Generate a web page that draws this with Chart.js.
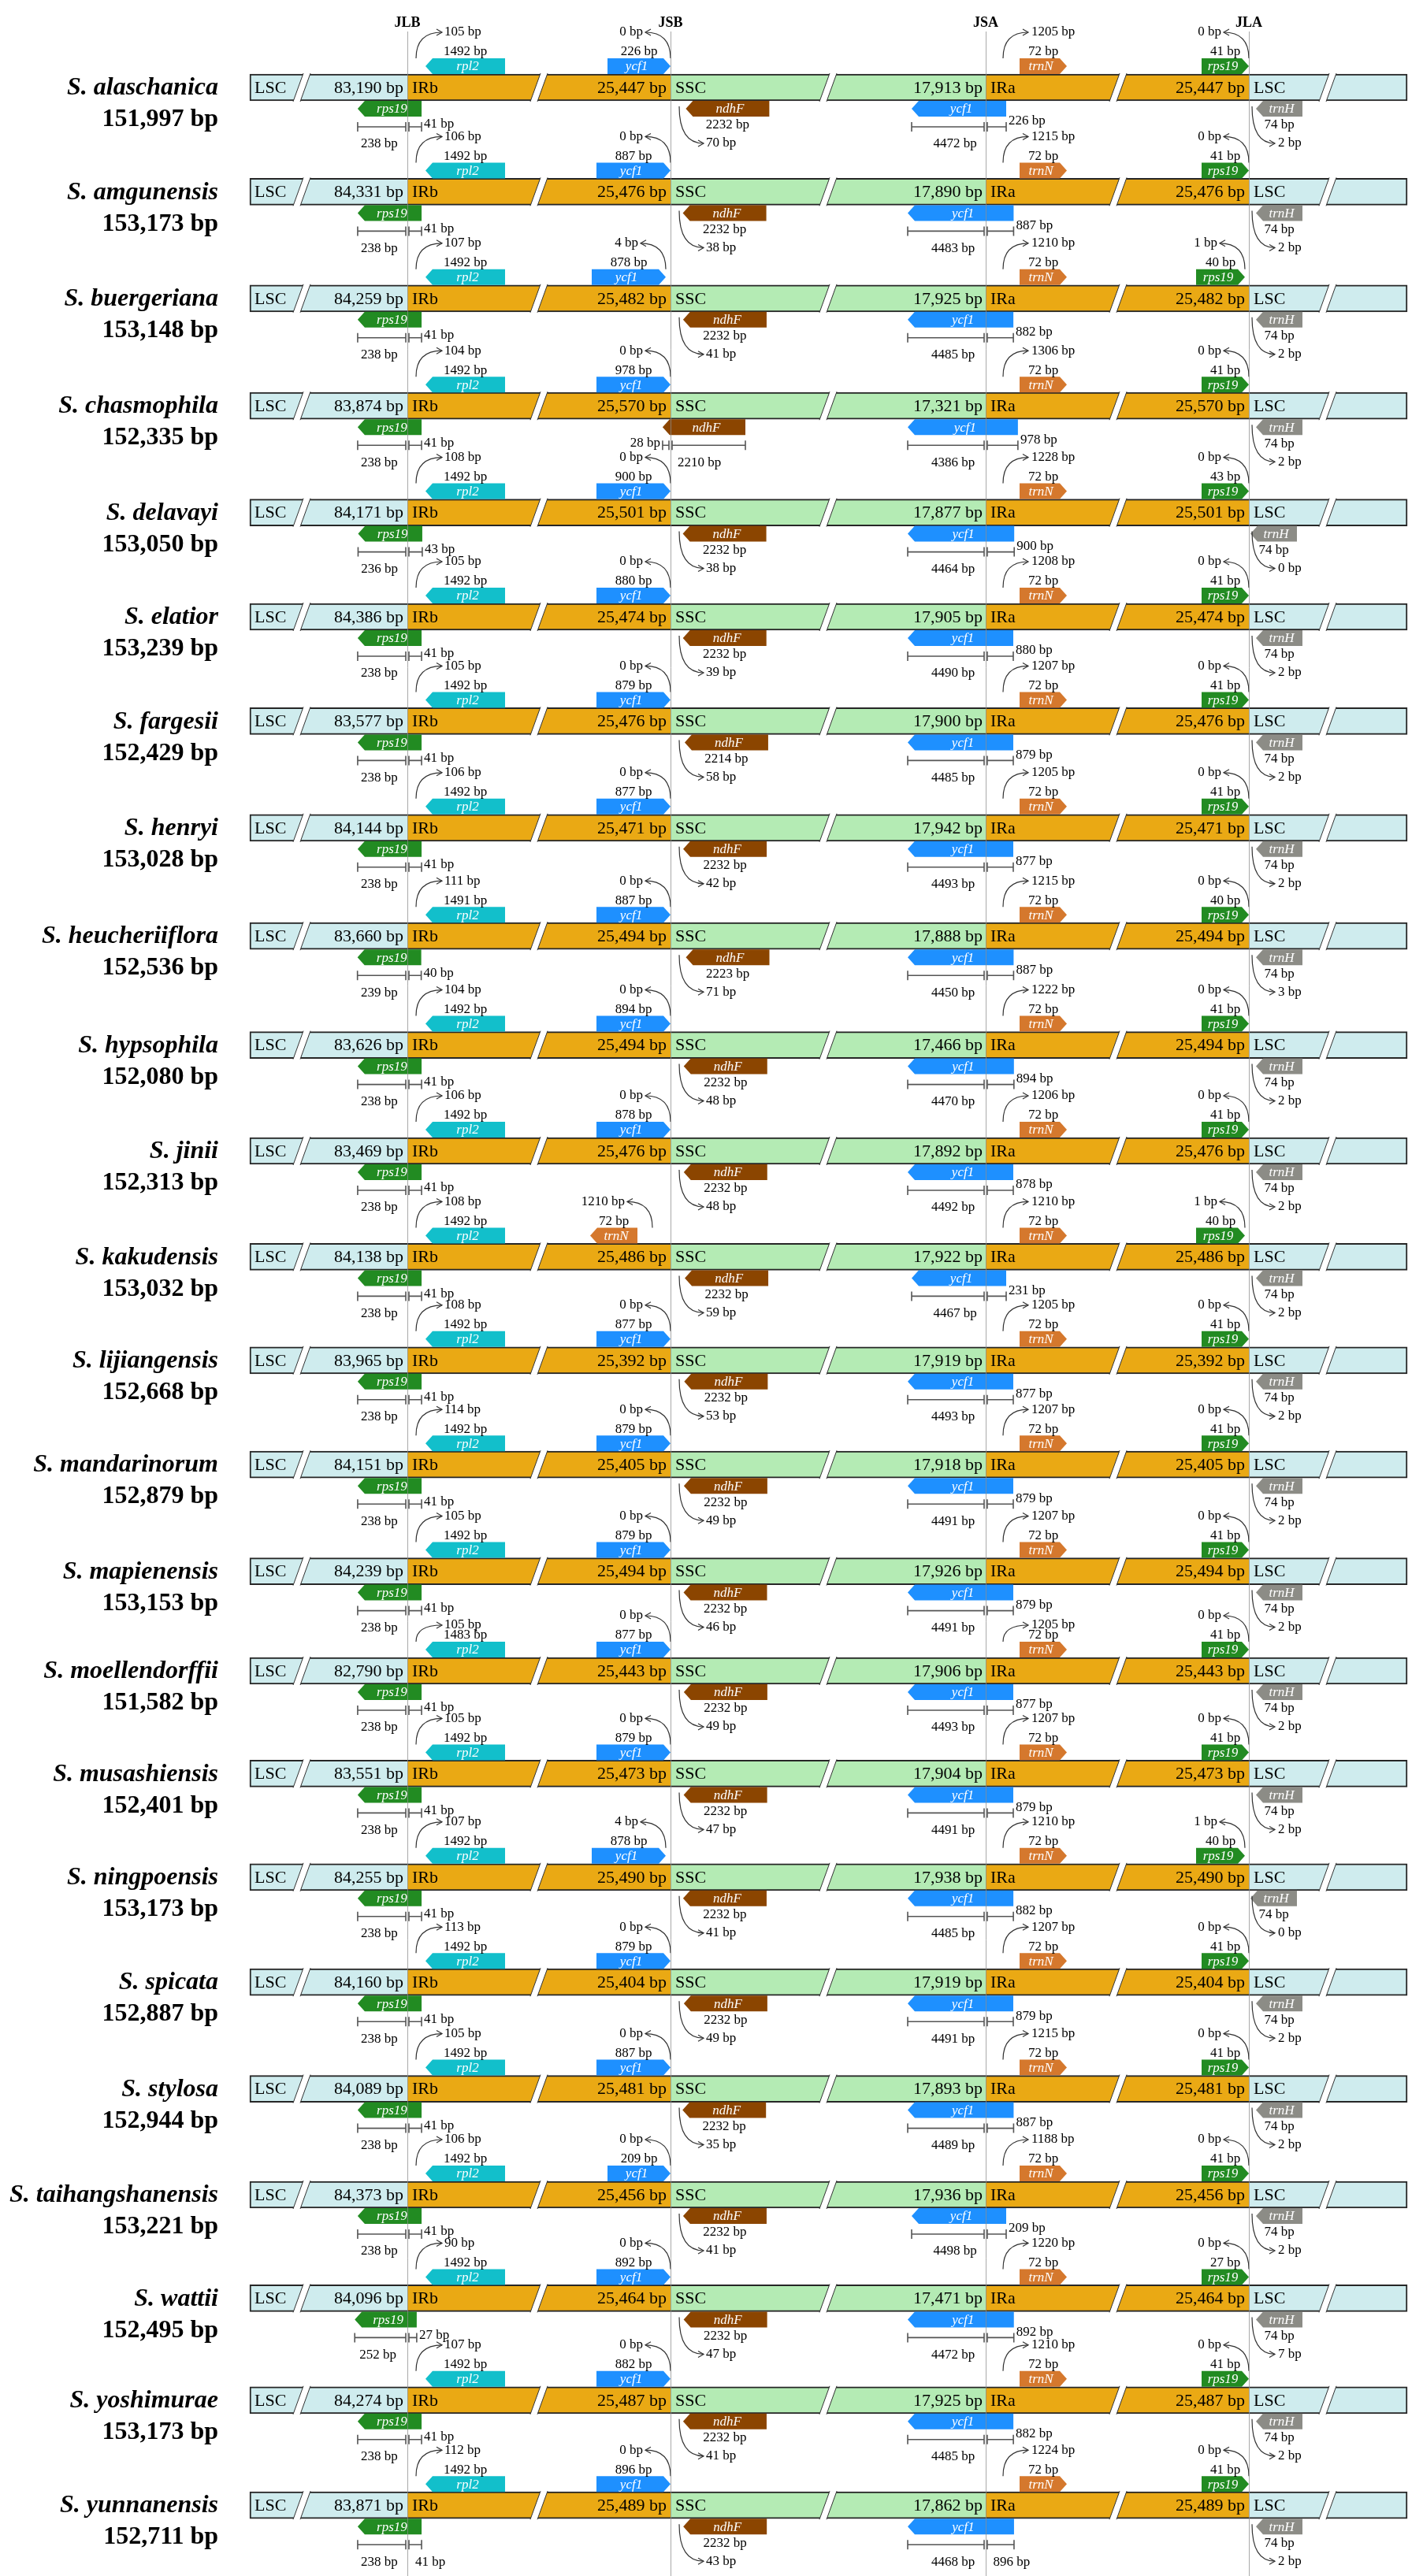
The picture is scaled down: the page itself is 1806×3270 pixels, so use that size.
<!DOCTYPE html>
<html><head><meta charset="utf-8">
<script src="https://cdn.jsdelivr.net/npm/chart.js@4.4.0/dist/chart.umd.min.js"></script>
<style>html,body{margin:0;padding:0;background:#fff}#wrap{width:1806px;height:3270px}canvas{display:block}</style>
</head><body>
<div id="wrap"><canvas id="c" width="1806" height="3270" style="width:1806px;height:3270px"></canvas></div>
<script>
// ---------------- DATA ----------------
const species = ["S. alaschanica","S. amgunensis","S. buergeriana","S. chasmophila","S. delavayi","S. elatior","S. fargesii","S. henryi","S. heucheriiflora","S. hypsophila","S. jinii","S. kakudensis","S. lijiangensis","S. mandarinorum","S. mapienensis","S. moellendorffii","S. musashiensis","S. ningpoensis","S. spicata","S. stylosa","S. taihangshanensis","S. wattii","S. yoshimurae","S. yunnanensis"];
const genomeBp = [151997,153173,153148,152335,153050,153239,152429,153028,152536,152080,152313,153032,152668,152879,153153,151582,152401,153173,152887,152944,153221,152495,153173,152711];
const lscBp = [83190,84331,84259,83874,84171,84386,83577,84144,83660,83626,83469,84138,83965,84151,84239,82790,83551,84255,84160,84089,84373,84096,84274,83871];
const irBp  = [25447,25476,25482,25570,25501,25474,25476,25471,25494,25494,25476,25486,25392,25405,25494,25443,25473,25490,25404,25481,25456,25464,25487,25489];
const sscBp = [17913,17890,17925,17321,17877,17905,17900,17942,17888,17466,17892,17922,17919,17918,17926,17906,17904,17938,17919,17893,17936,17471,17925,17862];
// genes above the bar
const rpl2Dist   = [105,106,107,104,108,105,105,106,111,104,106,108,108,114,105,105,105,107,113,105,106,90,107,112];
const rpl2Len    = [1492,1492,1492,1492,1492,1492,1492,1492,1491,1492,1492,1492,1492,1492,1492,1483,1492,1492,1492,1492,1492,1492,1492,1492];
const jsbTopGene = ["ycf1","ycf1","ycf1","ycf1","ycf1","ycf1","ycf1","ycf1","ycf1","ycf1","ycf1","trnN","ycf1","ycf1","ycf1","ycf1","ycf1","ycf1","ycf1","ycf1","ycf1","ycf1","ycf1","ycf1"];
const jsbTopDist = [0,0,4,0,0,0,0,0,0,0,0,1210,0,0,0,0,0,4,0,0,0,0,0,0];
const jsbTopLen  = [226,887,878,978,900,880,879,877,887,894,878,72,877,879,879,877,879,878,879,887,209,892,882,896];
const trnNDist   = [1205,1215,1210,1306,1228,1208,1207,1205,1215,1222,1206,1210,1205,1207,1207,1205,1207,1210,1207,1215,1188,1220,1210,1224];
const trnNLen    = [72,72,72,72,72,72,72,72,72,72,72,72,72,72,72,72,72,72,72,72,72,72,72,72];
const rps19TopGap = [0,0,1,0,0,0,0,0,0,0,0,1,0,0,0,0,0,1,0,0,0,0,0,0];
const rps19TopLen = [41,41,40,41,43,41,41,41,40,41,41,40,41,41,41,41,41,40,41,41,41,27,41,41];
// genes below the bar
const rps19LscPart = [238,238,238,238,236,238,238,238,239,238,238,238,238,238,238,238,238,238,238,238,238,252,238,238];
const rps19IrPart  = [41,41,41,41,43,41,41,41,40,41,41,41,41,41,41,41,41,41,41,41,41,27,41,41];
const ndhFLen    = [2232,2232,2232,2210,2232,2232,2214,2232,2223,2232,2232,2232,2232,2232,2232,2232,2232,2232,2232,2232,2232,2232,2232,2232];
const ndhFIrPart = [null,null,null,28,null,null,null,null,null,null,null,null,null,null,null,null,null,null,null,null,null,null,null,null];
const ndhFDist   = [70,38,41,null,38,39,58,42,71,48,48,59,53,49,46,49,47,41,49,35,41,47,41,43];
const ycf1SscPart = [4472,4483,4485,4386,4464,4490,4485,4493,4450,4470,4492,4467,4493,4491,4491,4493,4491,4485,4491,4489,4498,4472,4485,4468];
const ycf1IrPart  = [226,887,882,978,900,880,879,877,887,894,878,231,877,879,879,877,879,882,879,887,209,892,882,896];
const trnHLen  = [74,74,74,74,74,74,74,74,74,74,74,74,74,74,74,74,74,74,74,74,74,74,74,74];
const trnHDist = [2,2,2,2,0,2,2,2,3,2,2,2,2,2,2,2,2,0,2,2,2,7,2,2];
const junctionLabels = ["JLB","JSB","JSA","JLA"];
const segmentNames = ["LSC","IRb","SSC","IRa","LSC"];

// ---------------- LAYOUT (schematic units / pixels) ----------------
const J = {start:317, jlb:517, jsb:851, jsa:1251, jla:1585, end:1786};
const ROW0 = 111, ROW_PITCH = 133.4;
const ROW_NUDGE = [0,-1,1,4,6,5,4,6,10,15,16,17,15,14,16,9,6,4,4,6,7,5,1,1];
const rowPos = i => ROW0 + ROW_PITCH * i + ROW_NUDGE[i];
const COL = {lsc:'#cfecee', ir:'#eaa914', ssc:'#b4ebb4', rpl2:'#12bfcb', ycf1:'#1e90ff', rps19:'#228b22', ndhF:'#8b4500', trnN:'#d5782d', trnH:'#8c8c86'};
const SERIF = '"Liberation Serif","Times New Roman",serif';
const F_SMALL = '17px ' + SERIF, F_SEG = '22px ' + SERIF, F_GENE = 'italic 17px ' + SERIF;
const F_NAME = 'bold italic 32px ' + SERIF, F_BP = 'bold 32px ' + SERIF, F_HEAD = 'bold 18px ' + SERIF;
const fmt = v => v.toLocaleString('en-US');

const segBounds = [['start','jlb'],['jlb','jsb'],['jsb','jsa'],['jsa','jla'],['jla','end']];
const segColors = [COL.lsc, COL.ir, COL.ssc, COL.ir, COL.lsc];
const datasets = segBounds.map((b, k) => ({
  label: segmentNames[k],
  data: species.map((s, i) => ({y: rowPos(i), x: [J[b[0]], J[b[1]]]})),
  backgroundColor: segColors[k],
  borderColor: '#262626',
  borderWidth: {top: 2, bottom: 2, left: k === 0 ? 2 : 0, right: k === 4 ? 2 : 0},
  borderSkipped: false,
  barThickness: 34,
  grouped: false
}));

const drawPlugin = {
  id: 'irjunction',
  afterDatasetsDraw(chart) {
    const ctx = chart.ctx, xs = chart.scales.x, ys = chart.scales.y;
    const X = v => xs.getPixelForValue(v);
    const text = (s, x, y, align, font, color) => {
      ctx.font = font || F_SMALL; ctx.fillStyle = color || '#000';
      ctx.textAlign = align || 'center'; ctx.textBaseline = 'middle';
      ctx.fillText(s, X(x), y);
    };
    const gene = (x0, x1, yTop, dir, color, name) => {
      const h = 20, tip = 9, a = X(x0), b = X(x1);
      ctx.beginPath();
      if (dir === 'L') {
        ctx.moveTo(a, yTop + h / 2); ctx.lineTo(a + tip, yTop); ctx.lineTo(b, yTop);
        ctx.lineTo(b, yTop + h); ctx.lineTo(a + tip, yTop + h);
      } else {
        ctx.moveTo(a, yTop); ctx.lineTo(b - tip, yTop); ctx.lineTo(b, yTop + h / 2);
        ctx.lineTo(b - tip, yTop + h); ctx.lineTo(a, yTop + h);
      }
      ctx.closePath(); ctx.fillStyle = color; ctx.fill();
      text(name, (x0 + x1) / 2 + (dir === 'L' ? 3 : -3), yTop + h / 2 + 1, 'center', F_GENE, '#fff');
    };
    const arc = (sx, sy, ex, ey) => {
      const a = X(sx), e = X(ex), d = Math.sign(ex - sx);
      ctx.strokeStyle = '#333'; ctx.lineWidth = 1.2;
      ctx.beginPath(); ctx.moveTo(a, sy); ctx.quadraticCurveTo(a, ey, e, ey); ctx.stroke();
      ctx.beginPath(); ctx.moveTo(e - d * 7, ey - 4); ctx.lineTo(e, ey); ctx.lineTo(e - d * 7, ey + 4); ctx.stroke();
    };
    const bracket = (x0, x1, y) => {
      const a = X(x0), b = X(x1);
      ctx.strokeStyle = '#555'; ctx.lineWidth = 1.6;
      ctx.beginPath(); ctx.moveTo(a, y); ctx.lineTo(b, y);
      ctx.moveTo(a, y - 6); ctx.lineTo(a, y + 6); ctx.moveTo(b, y - 6); ctx.lineTo(b, y + 6); ctx.stroke();
    };
    const slash = (xb, c) => {
      const p = [[xb, c + 18], [xb + 9, c + 18], [xb + 22, c - 18], [xb + 13, c - 18]].map(q => [X(q[0]), q[1]]);
      ctx.beginPath(); ctx.moveTo(p[0][0], p[0][1]); p.slice(1).forEach(q => ctx.lineTo(q[0], q[1])); ctx.closePath();
      ctx.fillStyle = '#fff'; ctx.fill();
      ctx.strokeStyle = '#333'; ctx.lineWidth = 1;
      ctx.beginPath(); ctx.moveTo(p[0][0], p[0][1]); ctx.lineTo(p[3][0], p[3][1]);
      ctx.moveTo(p[1][0], p[1][1]); ctx.lineTo(p[2][0], p[2][1]); ctx.stroke();
    };

    species.forEach((sp, i) => {
      const c = ys.getPixelForValue(rowPos(i));
      const last = i === species.length - 1;
      [372, 673, 1040, 1408, 1674].forEach(xb => slash(xb, c));
      text('LSC', J.start + 6, c + 1, 'left', F_SEG);
      text(fmt(lscBp[i]) + ' bp', J.jlb - 5, c + 1, 'right', F_SEG);
      text('IRb', J.jlb + 6, c + 1, 'left', F_SEG);
      text(fmt(irBp[i]) + ' bp', J.jsb - 5, c + 1, 'right', F_SEG);
      text('SSC', J.jsb + 6, c + 1, 'left', F_SEG);
      text(fmt(sscBp[i]) + ' bp', J.jsa - 4, c + 1, 'right', F_SEG);
      text('IRa', J.jsa + 6, c + 1, 'left', F_SEG);
      text(fmt(irBp[i]) + ' bp', J.jla - 5, c + 1, 'right', F_SEG);
      text('LSC', J.jla + 6, c + 1, 'left', F_SEG);

      const topY = c - 37, arcTop = c - 70, lenY = c - 45;
      const liftY = i === 15 ? c - 58 : arcTop;
      gene(540, 641, topY, 'L', COL.rpl2, 'rpl2');
      text(rpl2Len[i] + ' bp', 590.5, lenY);
      arc(528, topY, 561, liftY);
      text(rpl2Dist[i] + ' bp', 564, liftY, 'left');
      let gL, gR, dir, col, nm, aS;
      if (jsbTopGene[i] === 'trnN') { gL = 749; gR = 809; dir = 'L'; col = COL.trnN; nm = 'trnN'; aS = 828; }
      else {
        gR = J.jsb - (jsbTopDist[i] > 0 ? 6 : 0);
        gL = gR - (jsbTopLen[i] < 300 ? 80 : 94);
        dir = 'R'; col = COL.ycf1; nm = 'ycf1'; aS = gR;
      }
      gene(gL, gR, topY, dir, col, nm);
      text(jsbTopLen[i] + ' bp', (gL + gR) / 2, lenY);
      arc(aS, topY, aS - 32, arcTop);
      text(jsbTopDist[i] + ' bp', aS - 35, arcTop, 'right');
      gene(1294, 1354, topY, 'R', COL.trnN, 'trnN');
      text(trnNLen[i] + ' bp', 1324, lenY);
      arc(1273, topY, 1305, liftY);
      text(trnNDist[i] + ' bp', 1309, liftY, 'left');
      const rR = J.jla - (rps19TopGap[i] > 0 ? 5 : 0), rL = rR - (rps19TopGap[i] > 0 ? 62 : 60);
      gene(rL, rR, topY, 'R', COL.rps19, 'rps19');
      text(rps19TopLen[i] + ' bp', (rL + rR) / 2, lenY);
      arc(rR, topY, rR - 32, arcTop);
      text(rps19TopGap[i] + ' bp', rR - 35, arcTop, 'right');

      const botY = c + 17, brY = c + 50, l1 = c + 47, l2 = c + 72;
      const bL = J.jlb - rps19LscPart[i] * 0.265, bR = J.jlb + rps19IrPart[i] * 0.44;
      gene(bL, bR, botY, 'L', COL.rps19, 'rps19');
      bracket(bL, J.jlb - 2, brY); bracket(J.jlb + 2, bR, brY);
      text(rps19LscPart[i] + ' bp', (bL + J.jlb) / 2 - 4, l2);
      if (last) text(rps19IrPart[i] + ' bp', bR + 11, l2);
      else text(rps19IrPart[i] + ' bp', bR + 3, l1, 'left');
      if (ndhFIrPart[i] != null) {
        const nL = J.jsb - ndhFIrPart[i] * 0.36, nR = J.jsb + 95;
        gene(nL, nR, botY, 'L', COL.ndhF, 'ndhF');
        bracket(nL, J.jsb - 2, brY); bracket(J.jsb + 2, nR, brY);
        text(ndhFIrPart[i] + ' bp', nL - 3, l1, 'right');
        text(ndhFLen[i] + ' bp', J.jsb + 9, l2, 'left');
      } else {
        const nL = 862 + ndhFDist[i] * 0.12, nR = nL + 106;
        gene(nL, nR, botY, 'L', COL.ndhF, 'ndhF');
        text(ndhFLen[i] + ' bp', (nL + nR) / 2, c + 48);
        arc(862, c + 24, 893, c + 71);
        text(ndhFDist[i] + ' bp', 896, c + 71, 'left');
      }
      const yShort = ycf1IrPart[i] < 300;
      const yR = J.jsa + (yShort ? 26 : 35 + Math.max(0, ycf1IrPart[i] - 880) * 0.06);
      const yL = J.jsa - 99 + (yShort ? 5 : 0);
      gene(yL, yR, botY, 'L', COL.ycf1, 'ycf1');
      bracket(yL, J.jsa - 2, brY); bracket(J.jsa + 2, yR, brY);
      text(ycf1SscPart[i] + ' bp', (yL + J.jsa) / 2 + 8, l2);
      if (last) text(ycf1IrPart[i] + ' bp', yR - 3, l2);
      else text(ycf1IrPart[i] + ' bp', yR + 3, c + 43, 'left');
      const tL = trnHDist[i] === 0 ? 1587 : 1594, tR = tL + 59;
      gene(tL, tR, botY, 'L', COL.trnH, 'trnH');
      text(trnHLen[i] + ' bp', (tL + tR) / 2, c + 48);
      arc(J.jla + 4, c + 24, J.jla + 33, c + 71);
      text(trnHDist[i] + ' bp', J.jla + 37, c + 71, 'left');

      text(sp, 277, c + 1, 'right', F_NAME);
      text(fmt(genomeBp[i]) + ' bp', 277, c + 41, 'right', F_BP);
    });

    [J.jlb, J.jsb, J.jsa, J.jla].forEach((x, k) => {
      ctx.strokeStyle = 'rgba(140,140,140,0.75)'; ctx.lineWidth = 1;
      ctx.beginPath(); ctx.moveTo(X(x) + 0.5, 40); ctx.lineTo(X(x) + 0.5, 3270); ctx.stroke();
      text(junctionLabels[k], x, 29, 'center', F_HEAD);
    });
  }
};

new Chart(document.getElementById('c'), {
  type: 'bar',
  data: {datasets},
  options: {
    indexAxis: 'y',
    responsive: false,
    devicePixelRatio: 1,
    animation: false,
    layout: {padding: 0},
    plugins: {legend: {display: false}, tooltip: {enabled: false}},
    scales: {
      x: {type: 'linear', min: 0, max: 1806, display: false, offset: false},
      y: {type: 'linear', min: 0, max: 3270, reverse: true, display: false, offset: false}
    }
  },
  plugins: [drawPlugin]
});
</script>
</body></html>
